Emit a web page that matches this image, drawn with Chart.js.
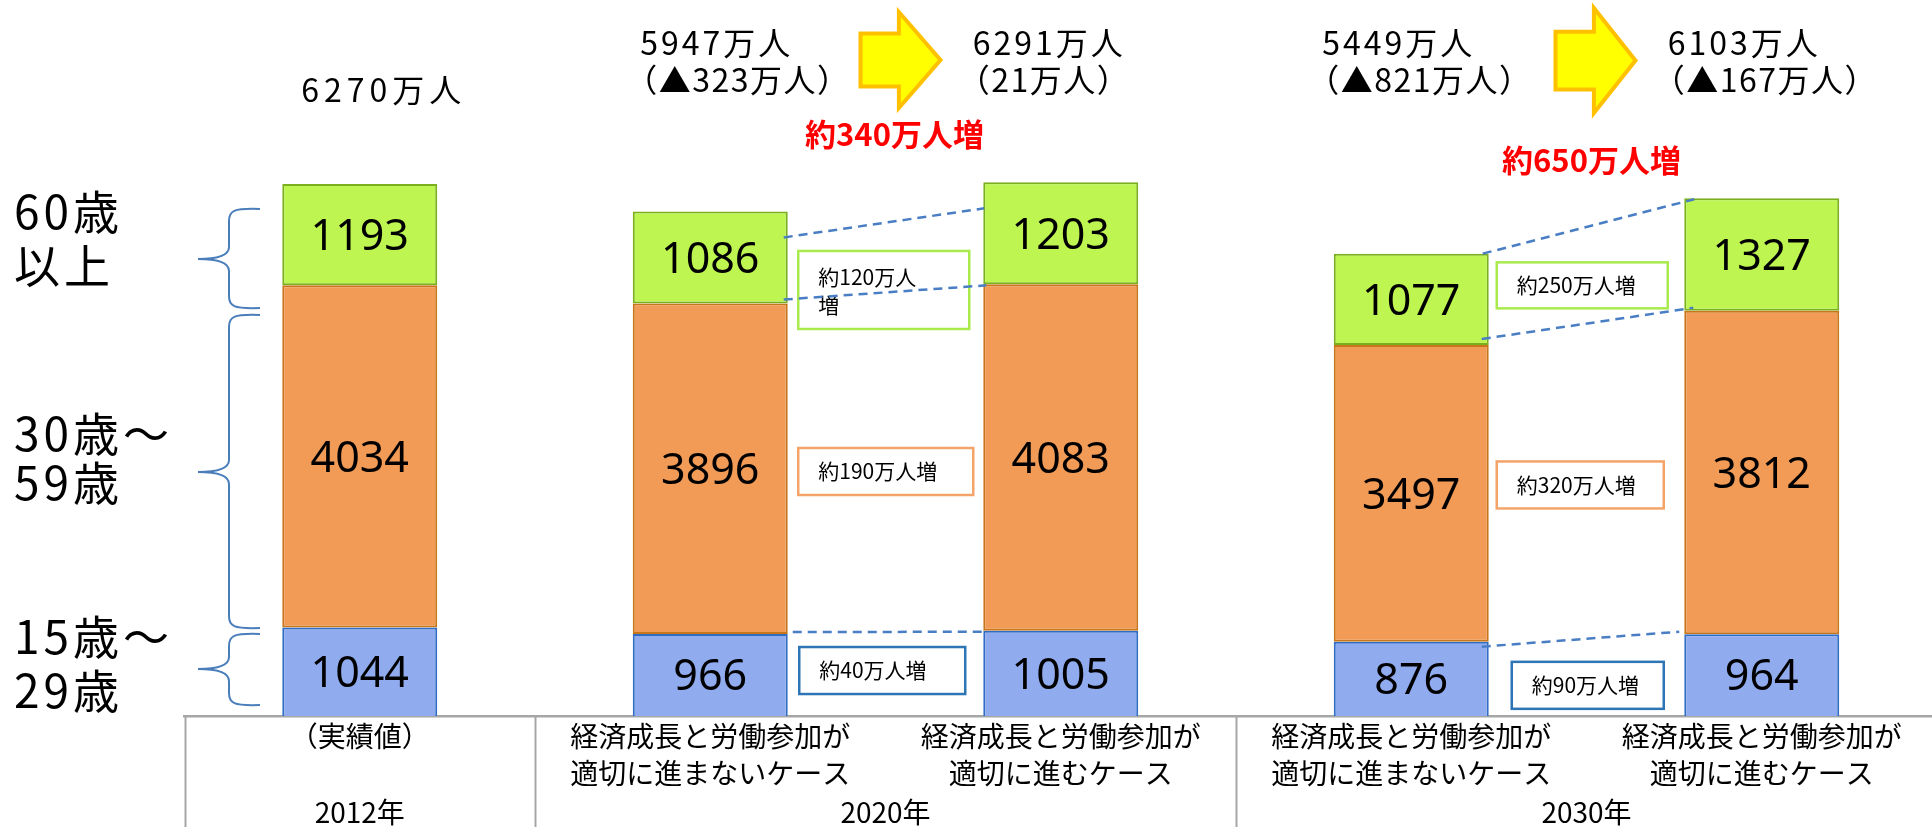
<!DOCTYPE html>
<html><head><meta charset="utf-8">
<script src="https://cdn.jsdelivr.net/npm/chart.js@4/dist/chart.umd.min.js"></script>
<style>
html,body{margin:0;padding:0;overflow:hidden;background:#fff;width:1932px;height:827px}
#wrap{position:absolute;left:0;top:0;width:1937px;height:827px}
</style></head><body>
<div id="wrap"><canvas id="c" width="1937" height="827"></canvas></div>
<script>
// ---- data ----
const caseLabels = [
  ["（実績値）"],
  ["経済成長と労働参加が", "適切に進まないケース"],
  ["経済成長と労働参加が", "適切に進むケース"],
  ["経済成長と労働参加が", "適切に進まないケース"],
  ["経済成長と労働参加が", "適切に進むケース"]
];
const years = ["2012年", "2020年", "2030年"];
const yearGroups = [[0], [1, 2], [3, 4]];
const age15_29 = [1044, 966, 1005, 876, 964];
const age30_59 = [4034, 3896, 4083, 3497, 3812];
const age60plus = [1193, 1086, 1203, 1077, 1327];
const totalLabels = ["6270万人", "5947万人", "6291万人", "5449万人", "6103万人"];
const changeLabels = ["", "（▲323万人）", "（21万人）", "（▲821万人）", "（▲167万人）"];
const groupIncrease = ["約340万人増", "約650万人増"];
const segIncrease2020 = ["約40万人増", "約190万人増", "約120万人増"];
const segIncrease2030 = ["約90万人増", "約320万人増", "約250万人増"];
const ageLabels = [["15歳～", "29歳"], ["30歳～", "59歳"], ["60歳", "以上"]];

const CJK = '"Noto Sans CJK JP", "Noto Sans CJK SC", sans-serif';

function drawText(ctx, s, x, cy, size, o = {}) {
  ctx.save();
  ctx.font = `${o.weight || 'normal'} ${size}px ${o.family || CJK}`;
  ctx.letterSpacing = (o.spacing || 0) + 'px';
  ctx.textAlign = o.align || 'left';
  ctx.textBaseline = 'alphabetic';
  ctx.fillStyle = o.color || '#000';
  ctx.fillText(s, x, cy + (o.k || 0.37) * size);
  ctx.restore();
}

function brace(ctx, xTip, xStem, xEnd, yTop, yMid, yBot) {
  const r = 12;
  ctx.beginPath();
  ctx.moveTo(xEnd, yTop);
  ctx.bezierCurveTo(xStem + 4, yTop - 1, xStem, yTop + 2, xStem, yTop + r);
  ctx.lineTo(xStem, yMid - r);
  ctx.quadraticCurveTo(xStem, yMid, xTip, yMid);
  ctx.quadraticCurveTo(xStem, yMid, xStem, yMid + r);
  ctx.lineTo(xStem, yBot - r);
  ctx.bezierCurveTo(xStem, yBot - 2, xStem + 4, yBot + 1, xEnd, yBot);
  ctx.stroke();
}

function blockArrow(ctx, x0, x1, yTop, yBot, shaftFrac, headFrac) {
  const w = x1 - x0, h = yBot - yTop, ym = (yTop + yBot) / 2, sh = h * shaftFrac / 2, xh = x1 - w * headFrac;
  ctx.save();
  ctx.beginPath();
  ctx.moveTo(x0, ym - sh); ctx.lineTo(xh, ym - sh); ctx.lineTo(xh, yTop); ctx.lineTo(x1, ym);
  ctx.lineTo(xh, yBot); ctx.lineTo(xh, ym + sh); ctx.lineTo(x0, ym + sh); ctx.closePath();
  ctx.fillStyle = '#FFFF00'; ctx.fill();
  ctx.lineWidth = 4; ctx.strokeStyle = '#FFC000'; ctx.lineJoin = 'miter'; ctx.stroke();
  ctx.restore();
}

const overlay = {
  id: 'overlay',
  afterDatasetsDraw(chart) {
    const ctx = chart.ctx;
    chart.data.datasets.forEach((ds, d) => {
      const meta = chart.getDatasetMeta(d);
      meta.data.forEach((el, i) => {
        const cy = (el.y + el.base) / 2;
        drawText(ctx, String(ds.data[i]), el.x, cy, 43, { family: '"Noto Sans", sans-serif', align: 'center', k: 0.357 });
      });
    });
  },
  afterDraw(chart, args, opts) {
    const ctx = chart.ctx;
    const area = chart.chartArea;
    const bars = chart.getDatasetMeta(0).data;
    const el = (d, i) => chart.getDatasetMeta(d).data[i];
    const half = bars[0].width / 2;
    const groupCenter = g => { const idx = yearGroups[g]; return (bars[idx[0]].x + bars[idx[idx.length - 1]].x) / 2; };

    // table dividers
    ctx.save();
    ctx.strokeStyle = '#A6A6A6'; ctx.lineWidth = 2;
    const divs = [area.left];
    for (let g = 1; g < yearGroups.length; g++) {
      const a = bars[yearGroups[g - 1][yearGroups[g - 1].length - 1]].x, b = bars[yearGroups[g][0]].x;
      divs.push((a + b) / 2);
    }
    divs.forEach(x => { ctx.beginPath(); ctx.moveTo(Math.round(x) + 0.5, area.bottom); ctx.lineTo(Math.round(x) + 0.5, chart.height); ctx.stroke(); });
    ctx.restore();

    // year labels
    years.forEach((y, g) => drawText(ctx, y, groupCenter(g), 813, 28, { align: 'center' }));

    // age labels and braces
    opts.ageText.forEach((p, a) => {
      ageLabels[a].forEach((t, l) => drawText(ctx, t, 14, p[l], 46, { spacing: 4 }));
    });
    ctx.save();
    ctx.strokeStyle = '#4A7EBB'; ctx.lineWidth = 2;
    opts.braces.forEach(b => brace(ctx, 198, 229, 260, b[0], b[1], b[2]));
    ctx.restore();

    // increase boxes
    const segTexts = [segIncrease2020, segIncrease2030];
    opts.boxes.forEach(bx => {
      const e = el(bx.ds, bx.from);
      const left = e.x + half + bx.dx;
      const cy = (e.y + e.base) / 2 + bx.dy;
      const top = cy - bx.h / 2;
      ctx.save();
      ctx.fillStyle = '#fff';
      ctx.fillRect(left, top, bx.w, bx.h);
      ctx.strokeStyle = bx.color; ctx.lineWidth = 2.5;
      ctx.strokeRect(left, top, bx.w, bx.h);
      ctx.restore();
      const t = segTexts[bx.group][bx.ds];
      if (bx.wrap) {
        drawText(ctx, t.slice(0, bx.wrap), left + 20, top + 26, 21);
        drawText(ctx, t.slice(bx.wrap), left + 20, top + 54, 21);
      } else {
        drawText(ctx, t, left + 20, cy, 21);
      }
    });

    // connectors (drawn over the boxes)
    ctx.save();
    ctx.strokeStyle = '#4A7EC4'; ctx.lineWidth = 2.5; ctx.setLineDash([9, 6]);
    opts.connectors.forEach(c => {
      const a = el(c.ds, c.from), b = el(c.ds, c.to);
      ctx.beginPath();
      ctx.moveTo(a.x + half + c.xs, a.y + c.dy[0]);
      ctx.lineTo(b.x - half + c.xe, b.y + c.dy[1]);
      ctx.stroke();
    });
    ctx.restore();

    // arrows
    opts.arrows.forEach(a => {
      const gc = groupCenter(a.group);
      blockArrow(ctx, gc + a.dx - 40, gc + a.dx + 40, a.top, a.bottom, a.shaft, 0.52);
    });

    // totals
    totalLabels.forEach((t, i) => {
      const x = bars[i].x + opts.totalDx[i];
      if (changeLabels[i]) {
        drawText(ctx, t, x, 43, 32, { spacing: 3 });
        drawText(ctx, changeLabels[i], x - 15, 80, 32, { spacing: 1.5 });
      } else {
        drawText(ctx, t, x, 90, 32, { spacing: 5 });
      }
    });

    // red group increase labels
    groupIncrease.forEach((t, g) => {
      drawText(ctx, t, groupCenter(g + 1) + opts.redDx[g], opts.redY[g], 31, { weight: 'bold', align: 'center', color: '#FF0000' });
    });
  }
};

new Chart(document.getElementById('c'), {
  type: 'bar',
  data: {
    labels: caseLabels,
    datasets: [
      { label: '15歳～29歳', data: age15_29, backgroundColor: '#91ABEF', borderColor: '#2F6DC4', borderWidth: 2, borderSkipped: 'start' },
      { label: '30歳～59歳', data: age30_59, backgroundColor: '#F19B57', borderColor: '#C9761A', borderWidth: 2, borderSkipped: false },
      { label: '60歳以上', data: age60plus, backgroundColor: '#BEF550', borderColor: '#7AB01E', borderWidth: 2, borderSkipped: false }
    ]
  },
  options: {
    responsive: false,
    animation: false,
    devicePixelRatio: 1,
    layout: { padding: { left: 184.5, right: 0, top: 0, bottom: 0 } },
    datasets: { bar: { categoryPercentage: 1, barPercentage: 0.4422 } },
    plugins: {
      legend: { display: false },
      tooltip: { enabled: false },
      overlay: {
        ageText: [[637, 691], [434, 483], [212, 266]],
        braces: [[209, 259, 308], [315, 472, 628], [634, 669, 705]],
        connectors: [
          { from: 1, to: 2, ds: 2, dy: [26, 26], xs: -4, xe: 1 },
          { from: 1, to: 2, ds: 1, dy: [-4, 1], xs: -4, xe: 3 },
          { from: 1, to: 2, ds: 0, dy: [-2, 1], xs: 5, xe: 0 },
          { from: 3, to: 4, ds: 2, dy: [0, 1], xs: -6, xe: 10 },
          { from: 3, to: 4, ds: 1, dy: [-6, -3], xs: -7, xe: 9 },
          { from: 3, to: 4, ds: 0, dy: [5, -2.5], xs: -7, xe: -5 }
        ],
        boxes: [
          { group: 0, from: 1, ds: 2, dx: 10.5, w: 171, h: 78, dy: 32.5, color: '#A9EA4C', wrap: 6 },
          { group: 0, from: 1, ds: 1, dx: 10.5, w: 175, h: 47, dy: 2.7, color: '#F4A468' },
          { group: 0, from: 1, ds: 0, dx: 11.5, w: 166, h: 47, dy: -4.5, color: '#2E75B6' },
          { group: 1, from: 3, ds: 2, dx: 8, w: 171, h: 46, dy: -14, color: '#A9EA4C' },
          { group: 1, from: 3, ds: 1, dx: 8, w: 167, h: 47, dy: -8.4, color: '#F4A468' },
          { group: 1, from: 3, ds: 0, dx: 23, w: 152, h: 47, dy: 6.5, color: '#2E75B6' }
        ],
        arrows: [
          { group: 1, dx: 15, top: 12, bottom: 108, shaft: 0.55 },
          { group: 2, dx: 9, top: 8, bottom: 113, shaft: 0.55 }
        ],
        totalDx: [-58.5, -70, -88, -89, -94],
        redDx: [9, 5],
        redY: [135, 161]
      }
    },
    scales: {
      x: {
        stacked: true,
        offset: true,
        z: 1,
        grid: { display: false },
        border: { display: true, color: '#A6A6A6', width: 2.5 },
        ticks: {
          autoSkip: false, maxRotation: 0, minRotation: 0, padding: -6, color: '#000',
          font: { family: CJK, size: 28, lineHeight: 1.32 }
        },
        afterFit(s) { s.height = 111; }
      },
      y: { stacked: true, min: 0, max: 8440, display: false }
    }
  },
  plugins: [overlay]
});
</script>
</body></html>
